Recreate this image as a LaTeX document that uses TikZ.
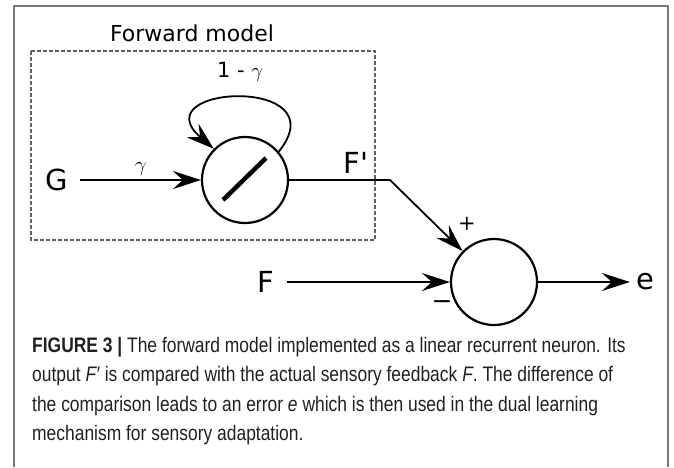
\documentclass[tikz,border=0pt]{standalone}
\usepackage{fontspec}
\setmainfont{DejaVu Sans}
\newfontfamily\capfont{Liberation Sans}[FakeStretch=0.83]
\usepackage{xcolor}
\usepackage{tikz}
\usetikzlibrary{arrows.meta, positioning}
\definecolor{framegray}{RGB}{120,120,120}
\definecolor{boxgray}{RGB}{95,95,95}
\definecolor{captext}{RGB}{35,31,32}

\begin{document}
\begin{tikzpicture}[x=1pt, y=-1pt,
    lbl/.style={inner xsep=12pt, inner ysep=0pt, font=\fontsize{29}{31}\selectfont},
    small/.style={inner sep=1pt, font=\fontsize{21}{23}\selectfont},
    neur/.style={draw, circle, line width=2.2pt, minimum size=86pt, inner sep=0pt},
    arr/.style={-{Stealth[length=28pt, width=18pt, inset=10pt]}, line width=1.8pt},
    dashbox/.style={draw=boxgray, line width=1.2pt, dash pattern=on 4pt off 2pt}]
    \useasboundingbox (0,0) rectangle (674,467);
    % outer frame
    \draw[framegray, line width=1.6pt] (14,467) -- (14,6) -- (668,6) -- (668,467);
    % forward model
    \draw[dashbox] (31,51) rectangle (375,240);
    \node[font=\fontsize{22}{24}\selectfont] (title) at (192,33) {Forward model};
    \node[neur] (neuron) at (245,180) {};
    \draw[line width=4.5pt] (223,200) -- (266,158);
    \node[lbl] (g) at (57,180) {G};
    \draw[arr] (g) -- node[small, above=3pt] (gamma) {$\gamma$} (neuron);
    \draw[arr] (neuron.40) .. controls (340,75) and (140,85) .. (neuron.135);
    \node[small] (keep) at (240,72) {1 - $\gamma$};
    % comparison
    \node[neur] (sum) at (494,282) {};
    \coordinate (bend) at (390,180);
    \draw[arr] (neuron) -- node[lbl, pos=0.66, above=6pt] (fp) {F\textquotesingle} (bend) -- (sum);
    \node[small] (plus) at (467,224) {+};
    \node[lbl] (f) at (266,282) {F};
    \draw[arr] (f) -- (sum);
    \node[small, font=\fontsize{25}{27}\selectfont] (minus) at (442,305) {−};
    \node[lbl, inner xsep=6pt] (e) at (645,282) {e};
    \draw[arr] (sum) -- (e);
    % caption
    \node[anchor=base west, inner sep=0pt, align=left, text=captext,
      font=\capfont\fontsize{21}{29.5}\selectfont] (cap) at (32,440.5)
      {\textbf{FIGURE 3 |} The forward model implemented as a linear recurrent neuron. Its\\
       output \textit{F′} is compared with the actual sensory feedback \textit{F}. The difference of\\
       the comparison leads to an error \textit{e} which is then used in the dual learning\\
       mechanism for sensory adaptation.};
\end{tikzpicture}
\end{document}
